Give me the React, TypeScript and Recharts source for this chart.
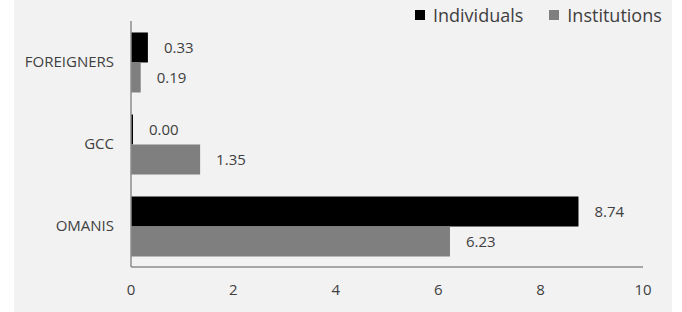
import React from 'react';
import { BarChart, Bar, XAxis, YAxis, Legend, LabelList } from 'recharts';

const categories = ['FOREIGNERS', 'GCC', 'OMANIS'];
const individuals = [0.33, 0.0, 8.74];
const institutions = [0.19, 1.35, 6.23];
const xTicks = [0, 2, 4, 6, 8, 10];

const data = categories.map((name, i) => ({
    name,
    Individuals: individuals[i],
    Institutions: institutions[i],
}));

const FONT = "'Open Sans', 'Liberation Sans', sans-serif";
const TEXT = '#404040';

function LegendContent({ payload }: any) {
    return (
        <div style={{ display: 'flex', alignItems: 'center', fontSize: 18, fontFamily: FONT, color: TEXT, lineHeight: '24px' }}>
            {(payload || []).map((p: any, i: number) => (
                <div key={p.value} style={{ display: 'flex', alignItems: 'center', marginLeft: i === 0 ? 0 : 26 }}>
                    <span style={{ display: 'inline-block', width: 10, height: 10, background: p.color, marginRight: 8 }} />
                    <span>{p.value}</span>
                </div>
            ))}
        </div>
    );
}

export default function App() {
    return (
        <div style={{ position: 'fixed', left: 0, top: 0, width: 682, height: 312, background: '#fff', fontFamily: FONT }}>
            <div style={{ position: 'absolute', left: 14, top: 0, width: 658, height: 312, background: '#f2f2f2' }} />
            <div style={{ position: 'absolute', left: 0, top: 0 }}>
                <BarChart
                    width={682}
                    height={312}
                    data={data}
                    layout="vertical"
                    margin={{ top: 21, right: 39, left: 14, bottom: 15 }}
                    barCategoryGap="14%"
                    barGap={0}
                >
                    <XAxis
                        type="number"
                        domain={[0, 10]}
                        ticks={xTicks}
                        tickLine={false}
                        tickSize={0}
                        tickMargin={17}
                        height={30}
                        axisLine={{ stroke: '#8c8c8c', strokeWidth: 1.5 }}
                        tick={{ fill: TEXT, fontSize: 15, fontFamily: FONT }}
                    />
                    <YAxis
                        type="category"
                        dataKey="name"
                        width={117}
                        tickLine={false}
                        tickSize={0}
                        tickMargin={17}
                        axisLine={{ stroke: '#8c8c8c', strokeWidth: 1.5 }}
                        tick={{ fill: TEXT, fontSize: 15, fontFamily: FONT }}
                    />
                    <Legend
                        verticalAlign="middle"
                        align="center"
                        content={<LegendContent />}
                        wrapperStyle={{ top: 3, left: 415, width: 'auto' }}
                    />
                    <Bar dataKey="Individuals" fill="#000000" minPointSize={2} isAnimationActive={false}>
                        <LabelList
                            dataKey="Individuals"
                            position="right"
                            offset={16}
                            fill={TEXT}
                            fontSize={15}
                            fontFamily={FONT}
                            formatter={(v: number) => v.toFixed(2)}
                        />
                    </Bar>
                    <Bar dataKey="Institutions" fill="#7f7f7f" isAnimationActive={false}>
                        <LabelList
                            dataKey="Institutions"
                            position="right"
                            offset={16}
                            fill={TEXT}
                            fontSize={15}
                            fontFamily={FONT}
                            formatter={(v: number) => v.toFixed(2)}
                        />
                    </Bar>
                </BarChart>
            </div>
        </div>
    );
}
